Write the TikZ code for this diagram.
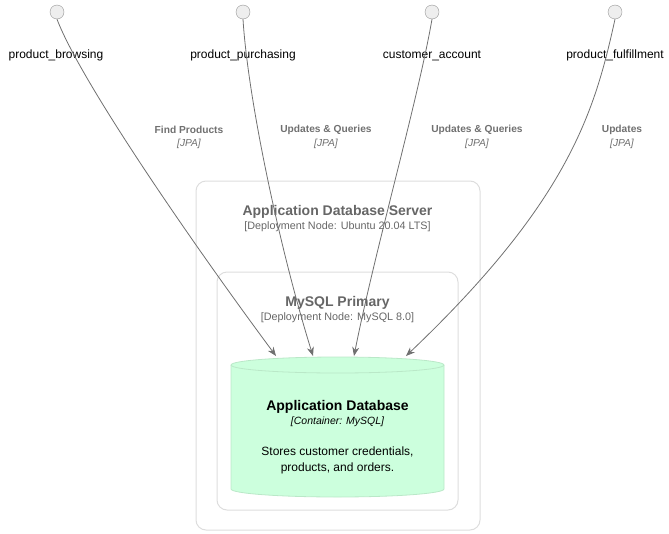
\documentclass[tikz,border=0pt]{standalone}
\usepackage{fontspec}
\setmainfont{Liberation Sans}
\usetikzlibrary{positioning,arrows.meta,calc,backgrounds}
\definecolor{relcolor}{RGB}{112,112,112}
\definecolor{boxcolor}{RGB}{221,221,221}
\definecolor{deploytext}{RGB}{102,102,102}
\definecolor{dbfill}{RGB}{204,255,221}
\definecolor{dbdraw}{RGB}{186,232,200}
\definecolor{ifacefill}{RGB}{238,238,238}
\definecolor{ifacedraw}{RGB}{150,150,150}

\begin{document}
\begin{tikzpicture}[
    x=1pt, y=-1pt,
    txt/.style={inner sep=0pt, yshift=-1.5pt},
    iface/.style={circle, draw=ifacedraw, fill=ifacefill, minimum size=14pt, inner sep=0pt},
    ifacelabel/.style={txt, font=\fontsize{12}{14}\selectfont, text=black},
    deploy/.style={rectangle, draw=boxcolor, line width=1pt, rounded corners=10pt},
    deploytitle/.style={txt, font=\fontsize{14}{16}\selectfont\bfseries, text=deploytext},
    deploytech/.style={txt, font=\fontsize{10.8}{12}\selectfont, text=deploytext},
    rellabel/.style={txt, font=\fontsize{10.2}{12}\selectfont\bfseries, text=relcolor},
    reltech/.style={txt, font=\fontsize{10.2}{12}\selectfont\itshape, text=relcolor},
    rel/.style={draw=relcolor, line width=0.8pt, -{Stealth[length=9pt,width=7pt]}}
]
\useasboundingbox (0,0) rectangle (669,533);

% ===== INTERFACES =====
\node[iface] (browse) at (57,12) {};
\node[iface] (purchase) at (243,12) {};
\node[iface] (account) at (432,12) {};
\node[iface] (fulfil) at (615,12) {};

\node[ifacelabel] (browse_lbl) at (56,54) {product\_browsing};
\node[ifacelabel] (purchase_lbl) at (243,54) {product\_purchasing};
\node[ifacelabel] (account_lbl) at (432,54) {customer\_account};
\node[ifacelabel] (fulfil_lbl) at (615,54) {product\_fulfillment};

% ===== DEPLOYMENT NODES =====
\node[deploy, minimum width=284pt, minimum height=349pt] (server) at (338,355.5) {};
\node[deploytitle] (server_title) at (337.5,210) {Application Database Server};
\node[deploytech] (server_tech) at (337.5,225) {[Deployment Node: Ubuntu 20.04 LTS]};

\node[deploy, minimum width=241pt, minimum height=238pt] (mysql) at (337.5,391) {};
\node[deploytitle] (mysql_title) at (337.5,301) {MySQL Primary};
\node[deploytech] (mysql_tech) at (337.5,316) {[Deployment Node: MySQL 8.0]};

% ===== DATABASE =====
\draw[draw=dbdraw, fill=dbfill, line width=0.8pt]
    (231,365) -- (231,489) arc[start angle=180, end angle=360, x radius=106.5, y radius=-8]
    -- (444,365) arc[start angle=0, end angle=180, x radius=106.5, y radius=-8] -- cycle;
\draw[draw=dbdraw, line width=0.8pt]
    (231,365) arc[start angle=180, end angle=360, x radius=106.5, y radius=-8];
\node[txt, font=\fontsize{14}{16}\selectfont\bfseries] (appdb) at (337.5,405) {Application Database};
\node[txt, font=\fontsize{10.5}{12}\selectfont\itshape] (appdb_tech) at (337.5,420) {[Container: MySQL]};
\node[txt, font=\fontsize{12}{16}\selectfont, align=center] (appdb_desc) at (337.5,459) {Stores customer credentials,\\products, and orders.};

\coordinate (in_browse) at (276,356);
\coordinate (in_purchase) at (313,356);
\coordinate (in_account) at (354,356);
\coordinate (in_fulfil) at (406,356);

% ===== RELATIONSHIP LABELS =====
\node[rellabel] (find_lbl) at (189,128) {Find Products};
\node[reltech] (find_tech) at (189,142) {[JPA]};
\node[rellabel] (upd1_lbl) at (326,128) {Updates \& Queries};
\node[reltech] (upd1_tech) at (326,142) {[JPA]};
\node[rellabel] (upd2_lbl) at (477,128) {Updates \& Queries};
\node[reltech] (upd2_tech) at (477,142) {[JPA]};
\node[rellabel] (upd3_lbl) at (622,128) {Updates};
\node[reltech] (upd3_tech) at (622,142) {[JPA]};

% ===== RELATIONSHIPS =====
\draw[rel] (browse.south) .. controls (80,80) and (190,240) .. (in_browse);
\draw[rel] (purchase.south) .. controls (248,100) and (280,250) .. (in_purchase);
\draw[rel] (account.south) .. controls (418,100) and (375,250) .. (in_account);
\draw[rel] (fulfil.south) .. controls (595,110) and (570,200) .. (in_fulfil);

\end{tikzpicture}
\end{document}
